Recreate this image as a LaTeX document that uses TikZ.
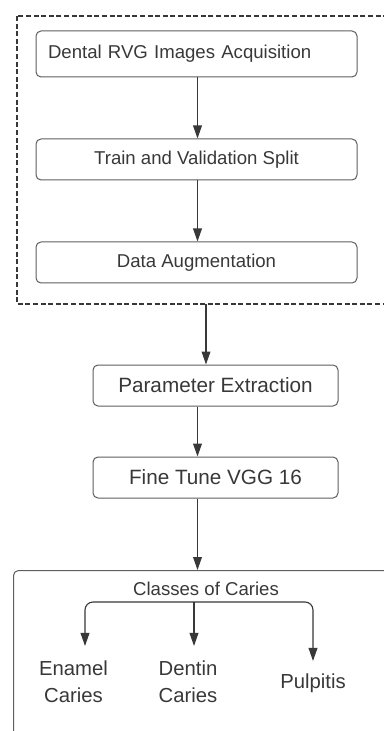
\documentclass[tikz,border=0pt]{standalone}
\usepackage{fontspec}
\setmainfont{Liberation Sans}
\usepackage{xcolor}
\usetikzlibrary{arrows.meta,positioning,calc}

\definecolor{ink}{HTML}{383838}
\definecolor{edgegray}{HTML}{5E5E5E}

\tikzset{
  stepbox/.style={draw=edgegray, line width=0.5pt, rounded corners=2.5pt, text=ink,
    minimum height=20.5pt, inner sep=0pt},
  bigtext/.style={font=\fontsize{10.35}{12}\selectfont},
  leaftext/.style={font=\fontsize{10.15}{13.5}\selectfont, align=center, text=ink},
  groupframe/.style={draw=ink, line width=0.8pt, dash pattern=on 2.5pt off 1.3pt},
  classbox/.style={draw=edgegray, line width=0.5pt, rounded corners=2.5pt},
  arr/.style={draw=ink, line width=0.55pt, -{Triangle[length=6.5pt,width=4.4pt]}},
  wire/.style={draw=ink, line width=0.55pt}
}

\begin{document}
\begin{tikzpicture}[x=0.5pt, y=-0.5pt, font=\fontsize{9.3}{11}\selectfont]
  \useasboundingbox (0,0) rectangle (384,731);
  \clip (0,0) rectangle (384,731);
  % Preprocessing group
  \draw[groupframe] (17,16) rectangle (420,304);
  \node[stepbox, minimum height=23pt, text width=148.5pt, align=left, inner xsep=6pt] (acq) at (196.5,54) {Dental RVG Images Acquisition};
  \node[stepbox, minimum width=160.5pt] (split) at (196.5,159.5) {Train and Validation Split};
  \node[stepbox, minimum width=160.5pt] (aug) at (196.5,262.5) {Data Augmentation};
  \coordinate (spine) at (197.5,0);
  \coordinate (framebot) at (206,304);
  % Feature stage
  \node[stepbox, bigtext, minimum width=122.5pt] (param) at (215.5,385.5) {Parameter Extraction};
  \node[stepbox, bigtext, minimum width=122.5pt] (vgg) at (215.5,477.5) {Fine Tune VGG 16};
  % Output classes
  \node[classbox, anchor=north west, minimum width=210pt, minimum height=100pt] (classes) at (13,570) {};
  \node[text=ink] (title) at (206,589) {Classes of Caries};
  \node[leaftext] (enamel) at (73.5,682) {Enamel\\Caries};
  \node[leaftext] (dentin) at (188,682) {Dentin\\Caries};
  \node[leaftext] (pulp) at (313,683.5) {Pulpitis};
  \coordinate (fork) at (194,602);
  \coordinate (enamelx) at (85,0);
  % Arrows
  \draw[arr] (acq.south -| spine) -- (split.north -| spine);
  \draw[arr] (split.south -| spine) -- (aug.north -| spine);
  \draw[arr] (framebot) -- (param.north -| framebot);
  \draw[arr] (param.south -| spine) -- (vgg.north -| spine);
  \draw[arr] (vgg.south -| spine) -- (classes.north -| spine);
  % Branches
  \draw[wire] (title.south -| fork) -- (fork);
  \draw[arr, shorten >=4pt] (fork) -- (dentin.north -| fork);
  \draw[arr, shorten >=4pt, rounded corners=4pt] (fork) -| (enamel.north -| enamelx);
  \draw[arr, shorten >=3pt, rounded corners=4pt] (fork) -| (pulp.north);
\end{tikzpicture}
\end{document}
